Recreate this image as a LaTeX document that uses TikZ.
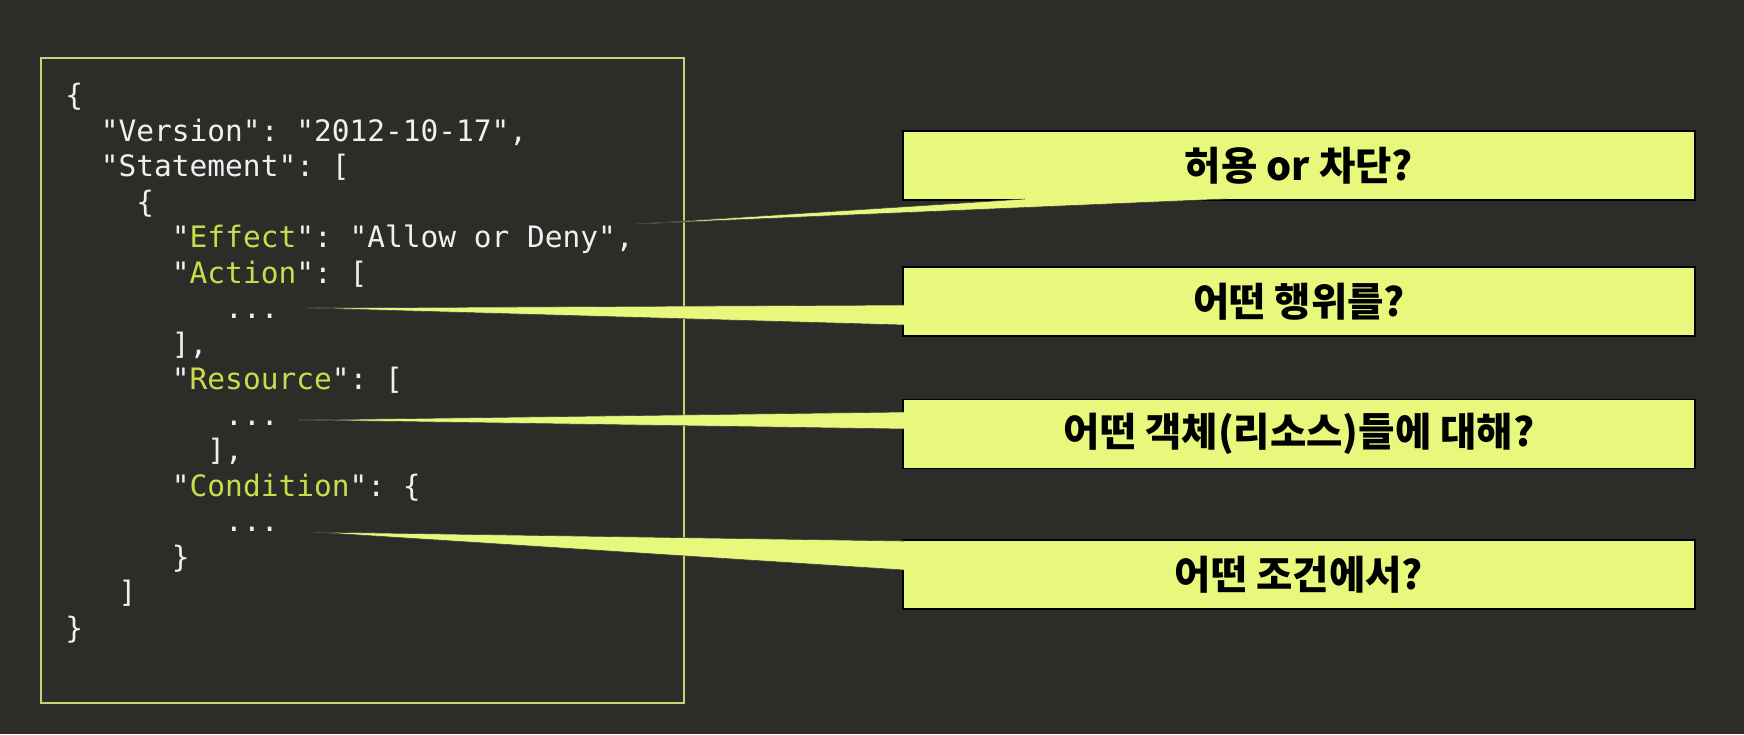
\documentclass[tikz,border=0pt]{standalone}
\usepackage{fontspec}
\setmonofont{DejaVu Sans Mono}
\newfontfamily\krfont{Noto Sans CJK KR}
\definecolor{bgdark}{HTML}{2C2C29}
\definecolor{framegreen}{HTML}{C4D27A}
\definecolor{keygreen}{HTML}{CADB4E}
\definecolor{qfill}{HTML}{E8F87C}
\newcommand\jkey[1]{\textcolor{keygreen}{#1}}
\newcommand\ind[1]{\hspace*{#1\fontcharwd\font`x}}
\begin{document}
\begin{tikzpicture}[x=0.5pt, y=-0.5pt,
  codeframe/.style={draw=framegreen, line width=0.8pt, minimum width=321.5pt, minimum height=322.5pt},
  codetext/.style={text=white!94!black, align=left, inner sep=0pt,
    font=\ttfamily\fontsize{14.75pt}{17.75pt}\selectfont},
  question/.style={draw=black, line width=0.6pt, fill=qfill, outer sep=0pt,
    minimum width=396pt, minimum height=34.5pt, font=\krfont\bfseries\fontsize{19.75pt}{24pt}\selectfont},
  wedge/.style={fill=qfill, draw=black!75, line width=0.3pt}]
\useasboundingbox (0,0) rectangle (1744,734);
\fill[bgdark] (0,0) rectangle (1744,734);
% the policy document
\node[codeframe] (policy) at (362.5,380.5) {};
\node[codetext, anchor=north west] (policytext) at (65,83) {%
\{\\
\ind2"Version": "2012-10-17",\\
\ind2"Statement": [\\
\ind4\{\\
\ind6"\jkey{Effect}": "Allow or Deny",\\
\ind6"\jkey{Action}": [\\
\ind9...\\
\ind6],\\
\ind6"\jkey{Resource}": [\\
\ind9...\\
\ind8],\\
\ind6"\jkey{Condition}": \{\\
\ind9...\\
\ind6\}\\
\ind3]\\
\}};
% questions
\node[question] (effectq) at (1299,165.5) {허용 or 차단?};
\node[question] (actionq) at (1299,301.5) {어떤 행위를?};
\node[question] (resourceq) at (1299,434) {어떤 객체(리소스)들에 대해?};
\node[question] (conditionq) at (1299,574.5) {어떤 조건에서?};
\coordinate (effecttip) at (637,224);
\coordinate (actiontip) at (307,308);
\coordinate (resourcetip) at (298,420);
\coordinate (conditiontip) at (313,532);
\path[wedge] ([yshift=0.5pt]1025,0 |- effectq.south) -- (effecttip) -- ([yshift=0.5pt]1225,0 |- effectq.south);
\path[wedge] ([xshift=0.5pt]actionq.west |- 0,305) -- (actiontip) -- ([xshift=0.5pt]actionq.west |- 0,325);
\path[wedge] ([xshift=0.5pt]resourceq.west |- 0,412) -- (resourcetip) -- ([xshift=0.5pt]resourceq.west |- 0,429);
\path[wedge] ([xshift=0.5pt]conditionq.west |- 0,541) -- (conditiontip) -- ([xshift=0.5pt]conditionq.west |- 0,570);
\end{tikzpicture}
\end{document}
